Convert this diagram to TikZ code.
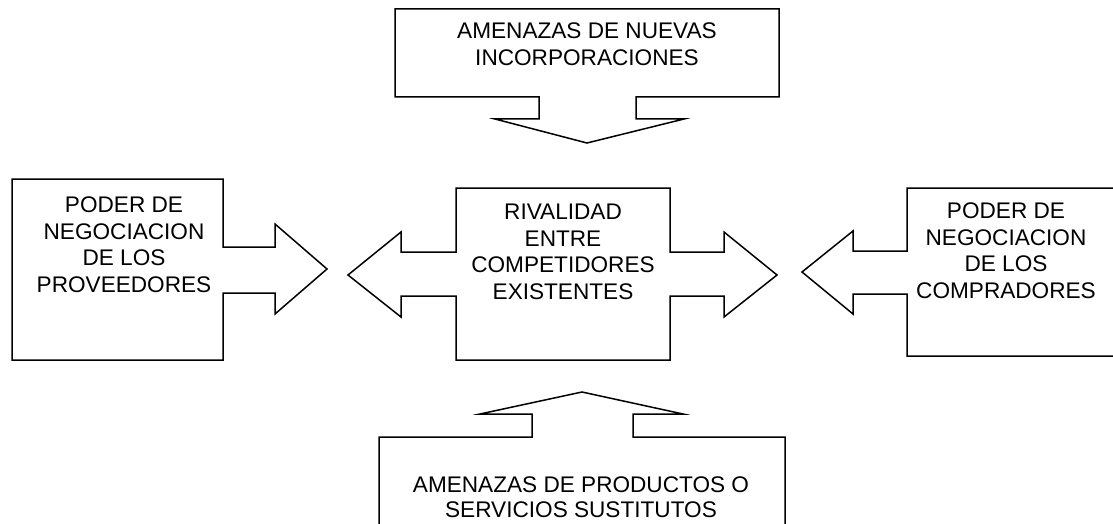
\documentclass[tikz,border=0pt]{standalone}
\usepackage{fontspec}
\setmainfont{Liberation Sans}
\usepackage{tikz}
\usetikzlibrary{positioning}

\tikzset{
    callout/.style={draw=black, line width=1.5pt, line join=miter, fill=white},
    forcetext/.style={align=center, anchor=north, inner sep=0pt, font=\fontsize{22.6}{26.5}\selectfont}
}

\begin{document}
\begin{tikzpicture}[x=1pt, y=-1pt]
    \useasboundingbox (0,0) rectangle (1113,524);
    \clip (0,0) rectangle (1113,524);

    % Amenazas de nuevas incorporaciones (arrow down)
    \draw[callout] (395,9) -- (779,9) -- (779,97) -- (636,97) -- (636,119) -- (684,119)
        -- (587,143) -- (495,119) -- (539,119) -- (539,97) -- (395,97) -- cycle;
    \node[forcetext] (nuevas) at (587,23) {AMENAZAS DE NUEVAS\\INCORPORACIONES};

    % Proveedores (arrow right)
    \draw[callout] (12,179) -- (223,179) -- (223,247) -- (275,247) -- (275,224) -- (327,269)
        -- (275,314) -- (275,293) -- (223,293) -- (223,360) -- (12,360) -- cycle;
    \node[forcetext] (proveedores) at (124,197) {PODER DE\\NEGOCIACION\\DE LOS\\PROVEEDORES};

    % Rivalidad (double arrow)
    \draw[callout] (456,188) -- (670,188) -- (670,252) -- (724,252) -- (724,232) -- (777,275)
        -- (724,317) -- (724,296) -- (670,296) -- (670,360) -- (456,360) -- (456,296)
        -- (401,296) -- (401,317) -- (348,275) -- (401,232) -- (401,252) -- (456,252) -- cycle;
    \node[forcetext] (rivalidad) at (563,204) {RIVALIDAD\\ENTRE\\COMPETIDORES\\EXISTENTES};

    % Compradores (arrow left)
    \draw[callout] (1125,188) -- (907,188) -- (907,251) -- (853,251) -- (853,231) -- (802,272)
        -- (853,314) -- (853,294) -- (907,294) -- (907,356) -- (1125,356) -- cycle;
    \node[forcetext] (compradores) at (1006,203) {PODER DE\\NEGOCIACION\\DE LOS\\COMPRADORES};

    % Sustitutos (arrow up)
    \draw[callout] (379,535) -- (379,437) -- (532,437) -- (532,414) -- (480,414) -- (582,392)
        -- (683,414) -- (633,414) -- (633,437) -- (785,437) -- (785,535) -- cycle;
    \node[forcetext, font=\fontsize{22.6}{24.5}\selectfont] (sustitutos) at (581,477)
        {AMENAZAS DE PRODUCTOS O\\SERVICIOS SUSTITUTOS};
\end{tikzpicture}
\end{document}
